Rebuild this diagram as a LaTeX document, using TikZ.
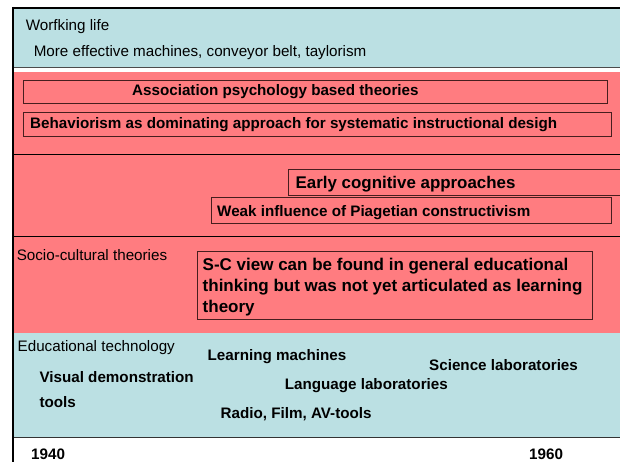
\documentclass[tikz,border=0pt]{standalone}
\usepackage{fontspec}
\setmainfont{Liberation Sans}
\definecolor{bandblue}{RGB}{187,224,227}
\definecolor{bandred}{RGB}{255,124,128}
\definecolor{boxline}{RGB}{70,30,30}
\begin{document}
\begin{tikzpicture}[x=1pt,y=-1pt,
  lbl/.style={anchor=base west,inner sep=0pt,font=\fontsize{15.2}{18}\selectfont},
  blbl/.style={anchor=base west,inner sep=0pt,font=\fontsize{15.2}{18}\selectfont\bfseries},
  frame/.style={draw=boxline,line width=0.9pt,fill=none,inner sep=0pt,anchor=north west},
  sep/.style={draw=black,line width=0.8pt}]
\useasboundingbox (0,0) rectangle (620,462);
\fill[white] (0,0) rectangle (620,462);
% bands
\fill[bandblue] (13,8) rectangle (620,67.5);
\draw[gray!60!black,line width=0.8pt] (13,67.5) -- (620,67.5);
\draw[black,line width=2pt] (12,8) -- (620,8);
\fill[bandred] (13,72) rectangle (620,333);
\draw[sep] (13,154) -- (620,154);
\draw[sep] (13,236.5) -- (620,236.5);
\draw[gray!60!black,line width=0.8pt] (13,333) -- (620,333);
\fill[bandblue] (13,333.4) rectangle (620,437.5);
\draw[black!80,line width=0.9pt] (13,437.5) -- (620,437.5);
\draw[black,line width=2.4pt] (13,7) -- (13,462);
% working life
\node[lbl] (work) at (25.7,30.5) {Worfking life};
\node[lbl] (workdesc) at (33.6,56.5) {More effective machines, conveyor belt, taylorism};
% boxes
\node[frame,minimum width=584pt,minimum height=23pt] (assocbox) at (23,80) {};
\node[blbl] (assoc) at (132,96) {Association psychology based theories};
\node[frame,minimum width=588pt,minimum height=24pt] (behavbox) at (23,112) {};
\node[blbl] (behav) at (30,129) {Behaviorism as dominating approach for systematic instructional desigh};
\node[frame,minimum width=340pt,minimum height=26pt] (earlybox) at (288,169) {};
\node[anchor=base west,inner sep=0pt,font=\fontsize{16.9}{19}\selectfont\bfseries] (early) at (295.5,189) {Early cognitive approaches};
\node[frame,minimum width=400pt,minimum height=25.5pt] (weakbox) at (211,197.5) {};
\node[blbl] (weak) at (217,216) {Weak influence of Piagetian constructivism};
% socio-cultural
\node[lbl] (socio) at (16.6,260) {Socio-cultural theories};
\node[frame,minimum width=395pt,minimum height=67.5pt] (scbox) at (197,251) {};
\node[anchor=base west,inner sep=0pt,font=\fontsize{17}{20.7}\selectfont\bfseries,align=left] (sc) at (202.5,312.1) {S-C view can be found in general educational\\thinking but was not yet articulated as learning\\theory};
% educational technology
\node[lbl] (edtech) at (17.5,351.7) {Educational technology};
\node[blbl] (learn) at (207.5,360) {Learning machines};
\node[blbl] (science) at (429,370.5) {Science laboratories};
\node[blbl] (visual) at (39.3,382.7) {Visual demonstration};
\node[blbl] (tools) at (39.3,407.5) {tools};
\node[blbl] (lang) at (284.6,389) {Language laboratories};
\node[blbl] (radio) at (220.5,418.5) {Radio, Film, AV-tools};
% years
\node[blbl] (y1940) at (31,459.8) {1940};
\node[blbl] (y1960) at (529,459.8) {1960};
\end{tikzpicture}
\end{document}
